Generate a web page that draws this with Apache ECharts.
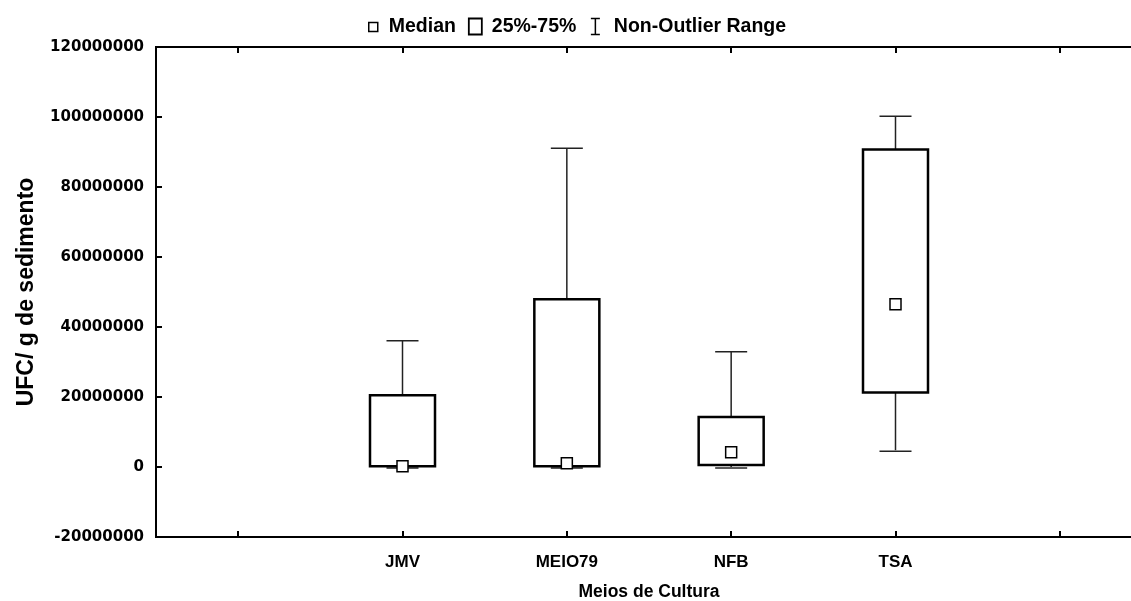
<!DOCTYPE html>
<html>
<head>
<meta charset="utf-8">
<script src="https://cdn.jsdelivr.net/npm/echarts@6/dist/echarts.min.js"></script>
<style>
html,body{margin:0;padding:0;background:#fff;}
#chart{width:1131px;height:601px;}
</style>
</head>
<body>
<div id="chart"></div>
<script>
// categorias (as pontas vazias ficam so para o espaco)
var categories = ['', 'JMV', 'MEIO79', 'NFB', 'TSA', ' '];
var whiskerLow = [null, 0, 0, 0, 4800000];
var q1 = [null, 200000, 200000, 600000, 21300000];
var medians = [null, 200000, 1100000, 4200000, 46500000];
var q3 = [null, 20500000, 47900000, 14300000, 90700000];
var whiskerHigh = [null, 36100000, 91100000, 32900000, 100200000];
var yTicks = [-20000000, 120000000, 20000000];

var arialB = "'Liberation Sans',Arial,sans-serif";

var boxData = [], whiskerData = [], medianData = [];
for (var i = 1; i < q1.length; i++) {
	boxData.push([i, q1[i], q3[i]]);
	whiskerData.push([i, whiskerLow[i], q1[i], q3[i], whiskerHigh[i]]);
	medianData.push([i, medians[i]]);
}

var chart = echarts.init(document.getElementById('chart'));

var tickStyle = {show: true, inside: true, alignWithLabel: true, interval: 0, length: 6, lineStyle: {color: '#000', width: 2}};

var option = {
	animation: false,
	legend: {
		top: 15,
		left: 363,
		padding: 0,
		itemGap: 10,
		itemWidth: 20,
		itemHeight: 18,
		textStyle: {fontFamily: arialB, fontWeight: 'bold', fontSize: 19.5, color: '#000'},
		data: [
			{name: 'Median', icon: 'path://M0,0M5,5h9v9h-9zM20,18', itemStyle: {color: '#fff', borderColor: '#000', borderWidth: 1.5}},
			{name: '25%-75%', icon: 'path://M0,0M2,1h13v16h-13zM20,18', itemStyle: {color: '#fff', borderColor: '#000', borderWidth: 1.8}},
			{name: 'Non-Outlier Range', icon: 'path://M0,0M2,1H11M6.5,1V17M2,17H11M20,18', itemStyle: {color: 'none', borderColor: '#000', borderWidth: 1.5}}
		]
	},
	grid: {
		left: 156,
		width: 986,
		top: 47,
		height: 490,
		outerBoundsMode: 'none',
		show: true,
		borderColor: '#000',
		borderWidth: 2,
		backgroundColor: 'transparent'
	},
	xAxis: [
		{
			type: 'category',
			data: categories,
			boundaryGap: true,
			axisLine: {onZero: false, lineStyle: {color: '#000', width: 2}},
			axisTick: tickStyle,
			axisLabel: {interval: 0, margin: 17, color: '#000', fontFamily: arialB, fontWeight: 'bold', fontSize: 17},
			name: 'Meios de Cultura',
			nameLocation: 'middle',
			nameGap: 46,
			nameTextStyle: {color: '#000', fontFamily: arialB, fontWeight: 'bold', fontSize: 17.5}
		},
		{
			type: 'category',
			position: 'top',
			data: categories,
			boundaryGap: true,
			axisLine: {onZero: false, lineStyle: {color: '#000', width: 2}},
			axisTick: tickStyle,
			axisLabel: {show: false, interval: 0}
		}
	],
	yAxis: {
		type: 'value',
		min: yTicks[0],
		max: yTicks[1],
		interval: yTicks[2],
		splitLine: {show: false},
		axisLine: {show: true, lineStyle: {color: '#000', width: 2}},
		axisTick: {show: true, inside: true, length: 6, lineStyle: {color: '#000', width: 2}},
		axisLabel: {
			margin: 12,
			color: '#000',
			fontFamily: "'DejaVu Sans',sans-serif",
			fontWeight: 'bold',
			fontSize: 15,
			formatter: function (v) { return String(v); }
		},
		name: 'UFC/ g de sedimento',
		nameLocation: 'middle',
		nameGap: 118,
		nameTextStyle: {color: '#000', fontFamily: arialB, fontWeight: 'bold', fontSize: 23}
	},
	series: [
		{
			name: 'Non-Outlier Range',
			type: 'custom',
			z: 2,
			data: whiskerData,
			renderItem: function (params, api) {
				var x = api.value(0);
				var low = api.coord([x, api.value(1)]);
				var bot = api.coord([x, api.value(2)]);
				var top = api.coord([x, api.value(3)]);
				var high = api.coord([x, api.value(4)]);
				var half = 16;
				var st = {stroke: '#222', lineWidth: 1.5};
				return {
					type: 'group',
					children: [
						{type: 'line', shape: {x1: low[0], y1: low[1], x2: bot[0], y2: bot[1]}, style: st},
						{type: 'line', shape: {x1: top[0], y1: top[1], x2: high[0], y2: high[1]}, style: st},
						{type: 'line', shape: {x1: low[0] - half, y1: low[1] + 1, x2: low[0] + half, y2: low[1] + 1}, style: st},
						{type: 'line', shape: {x1: high[0] - half, y1: high[1], x2: high[0] + half, y2: high[1]}, style: st}
					]
				};
			}
		},
		{
			name: '25%-75%',
			type: 'custom',
			z: 3,
			data: boxData,
			renderItem: function (params, api) {
				var x = api.value(0);
				var bot = api.coord([x, api.value(1)]);
				var top = api.coord([x, api.value(2)]);
				var w = 65;
				return {
					type: 'rect',
					shape: {x: bot[0] - w / 2, y: top[1], width: w, height: bot[1] - top[1]},
					style: {fill: '#fff', stroke: '#000', lineWidth: 2.5}
				};
			}
		},
		{
			name: 'Median',
			type: 'scatter',
			z: 4,
			data: medianData,
			symbol: 'rect',
			symbolSize: 11,
			itemStyle: {color: '#fff', borderColor: '#000', borderWidth: 1.5, opacity: 1}
		}
	]
};
chart.setOption(option);
</script>
</body>
</html>
